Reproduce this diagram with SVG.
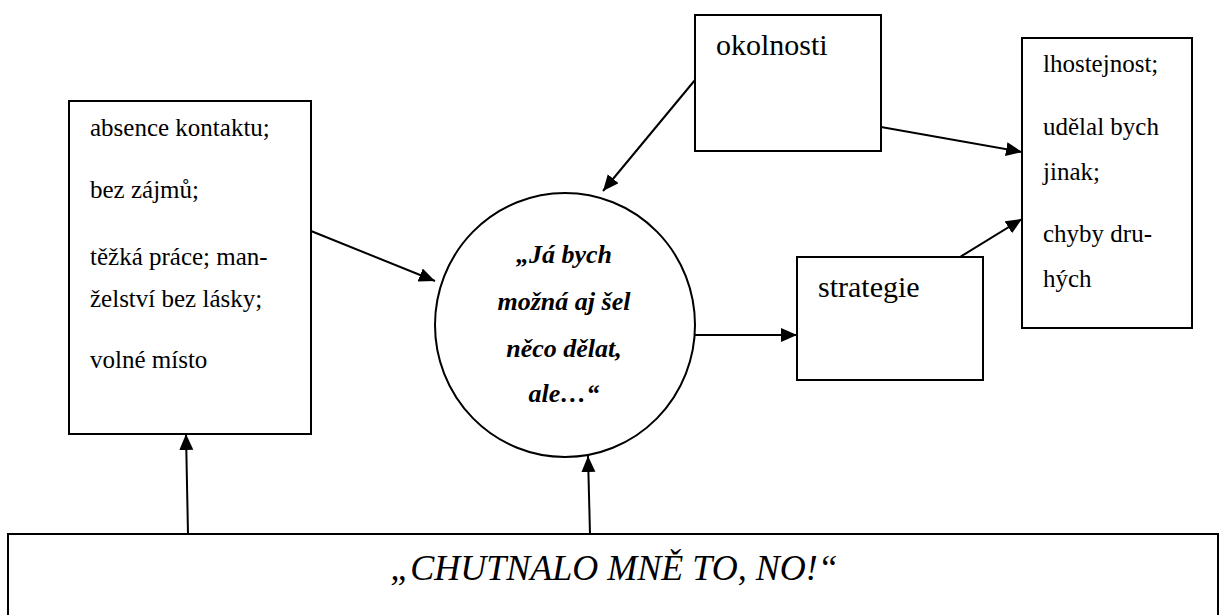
<svg xmlns="http://www.w3.org/2000/svg" width="1219" height="615" viewBox="0 0 1219 615">
<style>
.box{fill:#fff;stroke:#000;stroke-width:2}
text{font-family:'Tinos','Times New Roman','Noto Serif','DejaVu Serif','Liberation Serif',serif;fill:#000}
.t{font-size:25px}
.big{font-size:30px}
.c{font-size:26px;font-weight:bold;font-style:italic;text-anchor:middle}
.bt{font-size:36px;font-style:italic;text-anchor:middle}
.ln{stroke:#000;stroke-width:2;fill:none;marker-end:url(#ah)}
</style>
<defs>
<marker id="ah" markerUnits="userSpaceOnUse" markerWidth="17" markerHeight="15" refX="16" refY="7" orient="auto">
<path d="M0,0 L16,7 L0,14 z" fill="#000"/>
</marker>
</defs>
<rect width="1219" height="615" fill="#fff"/>
<g id="left-box">
<rect class="box" x="69" y="101" width="242" height="333"/>
<text class="t" x="90" y="136">absence kontaktu;</text>
<text class="t" x="90" y="198">bez zájmů;</text>
<text class="t" x="90" y="265">těžká práce; man-</text>
<text class="t" x="90" y="307">želství bez lásky;</text>
<text class="t" x="90" y="368">volné místo</text>
</g>
<g id="center-circle">
<ellipse class="box" cx="565" cy="325" rx="130" ry="132"/>
<text class="c" x="564" y="263">„Já bych</text>
<text class="c" x="564" y="310">možná aj šel</text>
<text class="c" x="564" y="357">něco dělat,</text>
<text class="c" x="564" y="402">ale…“</text>
</g>
<g id="okolnosti">
<rect class="box" x="695" y="15" width="186" height="136"/>
<text class="big" x="716" y="55">okolnosti</text>
</g>
<g id="strategie">
<rect class="box" x="797" y="257" width="186" height="123"/>
<text class="big" x="818" y="297">strategie</text>
</g>
<g id="right-box">
<rect class="box" x="1022" y="38" width="170" height="290"/>
<text class="t" x="1043" y="72">lhostejnost;</text>
<text class="t" x="1043" y="135">udělal bych</text>
<text class="t" x="1043" y="180">jinak;</text>
<text class="t" x="1043" y="242">chyby dru-</text>
<text class="t" x="1043" y="287">hých</text>
</g>
<g id="bottom-box">
<rect class="box" x="8" y="534" width="1210" height="100"/>
<text class="bt" x="614" y="580">„CHUTNALO MNĚ TO, NO!“</text>
</g>
<g id="connectors">
<line class="ln" x1="311" y1="231" x2="435" y2="281"/>
<line class="ln" x1="695" y1="80" x2="603" y2="191"/>
<line class="ln" x1="881" y1="127" x2="1022" y2="152"/>
<line class="ln" x1="695" y1="335" x2="797" y2="335"/>
<line class="ln" x1="960" y1="257" x2="1022" y2="219"/>
<line class="ln" x1="188" y1="534" x2="186" y2="434"/>
<line class="ln" x1="590" y1="534" x2="588" y2="456"/>
</g>
</svg>
